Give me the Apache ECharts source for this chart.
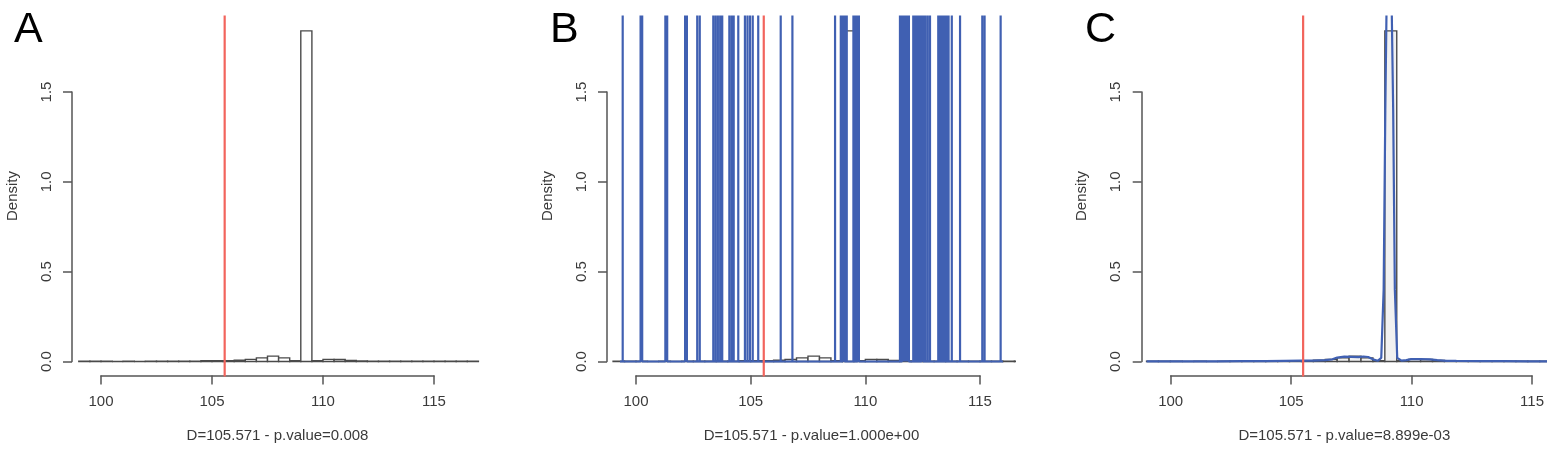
<!DOCTYPE html>
<html>
<head>
<meta charset="utf-8">
<script src="https://cdn.jsdelivr.net/npm/echarts@6/dist/echarts.min.js"></script>
<style>
  html, body { margin: 0; padding: 0; background: #fff; }
  #chart { width: 1547px; height: 449px; }
</style>
</head>
<body>
<div id="chart"></div>
<script>
// values
var xTicks = [100, 105, 110, 115];
var yTicks = [0, 0.5, 1.0, 1.5];
var dObserved = 105.571;
var panelLetters = ["A", "B", "C"];
var xTitles = [
    "D=105.571 - p.value=0.008",
    "D=105.571 - p.value=1.000e+00",
    "D=105.571 - p.value=8.899e-03"
];

// histogram of the null distribution (bin width 0.5)
var histBreaks = [99, 99.5, 100, 100.5, 101, 101.5, 102, 102.5, 103, 103.5, 104, 104.5,
    105, 105.5, 106, 106.5, 107, 107.5, 108, 108.5, 109, 109.5, 110, 110.5, 111, 111.5,
    112, 112.5, 113, 113.5, 114, 114.5, 115, 115.5, 116, 116.5, 117];
var histDensity = [0.001, 0.001, 0.001, 0.000, 0.001, 0.000, 0.001, 0.001, 0.002, 0.002,
    0.002, 0.004, 0.005, 0.005, 0.007, 0.012, 0.020, 0.030, 0.020, 0.004, 1.840, 0.004,
    0.012, 0.011, 0.006, 0.003, 0.002, 0.002, 0.001, 0.002, 0.001, 0.001, 0.001, 0.001,
    0.001, 0.001];

// panel B: density with a tiny bandwidth, spikes go off the top
var spikesB = [99.42, 100.2, 100.27, 101.28, 101.36, 102.14, 102.22, 102.67, 102.78,
    103.37, 103.47, 103.57, 103.67, 103.76, 104.07, 104.17, 104.26, 104.46, 104.75,
    104.86, 104.97, 105.09, 105.33, 106.31, 106.82, 108.68, 108.93, 109.02, 109.1,
    109.19, 109.48, 109.57, 109.66, 109.72, 111.51, 111.6, 111.68, 111.76, 111.84,
    111.9, 112.09, 112.18, 112.27, 112.36, 112.45, 112.53, 112.62, 112.72, 112.82,
    113.18, 113.27, 113.36, 113.45, 113.54, 113.63, 113.77, 114.13, 115.1, 115.2, 115.9];
var spikeTopB = 40;
var baseStartB = 99.3, baseEndB = 116.0;

// panel C: smoothed density
var densCx = [99.0, 100, 101, 102, 103, 104, 104.8, 105.5, 106, 106.5, 106.8, 107.0, 107.3,
    107.6, 107.9, 108.1, 108.3, 108.5, 108.7, 108.85, 108.95, 109.02, 109.07, 109.18,
    109.29, 109.35, 109.42, 109.52, 109.7, 109.9, 110.1, 110.5, 110.9, 111.2, 111.6,
    112, 113, 114, 115, 116, 116.5];
var densCy = [0.001, 0.001, 0.001, 0.001, 0.002, 0.002, 0.004, 0.005, 0.005, 0.008, 0.012,
    0.022, 0.027, 0.026, 0.024, 0.028, 0.025, 0.012, 0.004, 0.02, 0.4, 1.4, 1.95, 2.7,
    1.95, 1.4, 0.4, 0.02, 0.005, 0.008, 0.013, 0.014, 0.012, 0.008, 0.004, 0.003, 0.002,
    0.002, 0.001, 0.001, 0.001];

// pixel layout of the three panels
var panels = [
    {left: 72,     right: 483,    x100: 101,    x115: 434,    letterX: 14,   fill: "#ffffff"},
    {left: 607,    right: 1016,   x100: 636,    x115: 980,    letterX: 550,  fill: "#ffffff"},
    {left: 1141.7, right: 1551.7, x100: 1170.7, x115: 1532.3, letterX: 1085, fill: "#f1f1f1"}
];
var plotTop = 16.5, plotBottom = 375.5, y0px = 361.5, y15px = 92;

var font = "Liberation Sans";
var axisGrey = "#555";
var textGrey = "#3a3a3a";
var blue = "#4060b2";
var red = "#f2645c";

var chart = echarts.init(document.getElementById("chart"), null, {renderer: "canvas"});

var yScale = (y0px - y15px) / 1.5;
var yMin = (y0px - plotBottom) / yScale;
var yMax = (y0px - plotTop) / yScale;

var grids = [], xAxes = [], yAxes = [], series = [], graphics = [];

function histItem(fill) {
    return function (params, api) {
        var p0 = api.coord([api.value(0), 0]);
        var p1 = api.coord([api.value(1), api.value(2)]);
        return {
            type: "rect",
            shape: {x: p0[0], y: p1[1], width: p1[0] - p0[0], height: p0[1] - p1[1]},
            style: {fill: fill, stroke: "#4a4a4a", lineWidth: 1.4}
        };
    };
}

var histData = histDensity.map(function (d, i) {
    return [histBreaks[i], histBreaks[i + 1], d];
});

var spikeData = [[baseStartB, 0]];
spikesB.forEach(function (s) {
    spikeData.push([s, 0], [s, spikeTopB], [s, 0]);
});
spikeData.push([baseEndB, 0]);

var densCData = densCx.map(function (x, i) { return [x, densCy[i]]; });

panels.forEach(function (p, i) {
    var sx = (p.x115 - p.x100) / (xTicks[3] - xTicks[0]);
    var xMin = xTicks[0] + (p.left - p.x100) / sx;
    var xMax = xTicks[0] + (p.right - p.x100) / sx;
    var g = i * 3;

    // plot region
    grids.push({left: p.left, top: plotTop, width: p.right - p.left, height: plotBottom - plotTop, containLabel: false});
    // visible x axis (100..115 only)
    grids.push({left: p.x100, top: plotTop, width: p.x115 - p.x100, height: plotBottom - plotTop, containLabel: false});
    // visible y axis (0..1.5 only)
    grids.push({left: p.left, top: y15px, width: 50, height: y0px - y15px, containLabel: false});

    xAxes.push({
        type: "value", gridIndex: g, min: xMin, max: xMax,
        axisLine: {show: false}, axisTick: {show: false}, axisLabel: {show: false}, splitLine: {show: false},
        name: xTitles[i], nameLocation: "middle", nameGap: 53,
        nameTextStyle: {fontSize: 15, color: textGrey, fontFamily: font}
    });
    xAxes.push({
        type: "value", gridIndex: g + 1, min: xTicks[0], max: xTicks[3], interval: 5,
        axisLine: {show: true, lineStyle: {color: axisGrey, width: 1.5}},
        axisTick: {show: true, length: 9, lineStyle: {color: axisGrey, width: 1.5}},
        axisLabel: {margin: 19, fontSize: 15, color: textGrey, fontFamily: font},
        splitLine: {show: false}
    });
    xAxes.push({type: "value", gridIndex: g + 2, show: false, min: 0, max: 1});

    yAxes.push({
        type: "value", gridIndex: g, min: yMin, max: yMax,
        axisLine: {show: false}, axisTick: {show: false}, axisLabel: {show: false}, splitLine: {show: false},
        name: "Density", nameLocation: "middle", nameGap: 52, nameRotate: 90,
        nameTextStyle: {fontSize: 15, color: textGrey, fontFamily: font}
    });
    yAxes.push({type: "value", gridIndex: g + 1, show: false, min: 0, max: 1});
    yAxes.push({
        type: "value", gridIndex: g + 2, min: yTicks[0], max: yTicks[3], interval: 0.5,
        axisLine: {show: true, lineStyle: {color: axisGrey, width: 1.5}},
        axisTick: {show: true, length: 9, lineStyle: {color: axisGrey, width: 1.5}},
        axisLabel: {margin: 18, rotate: 90, fontSize: 15, color: textGrey, fontFamily: font,
            formatter: function (v) { return v.toFixed(1); }},
        splitLine: {show: false}
    });

    series.push({
        type: "custom", xAxisIndex: g, yAxisIndex: g, renderItem: histItem(p.fill),
        data: histData, z: 2, clip: true, silent: true
    });
    if (i === 1) {
        series.push({
            type: "line", xAxisIndex: g, yAxisIndex: g, data: spikeData, showSymbol: false,
            symbol: "none", lineStyle: {color: blue, width: 2.2}, clip: true, z: 3, silent: true
        });
    }
    if (i === 2) {
        series.push({
            type: "line", xAxisIndex: g, yAxisIndex: g, data: densCData, showSymbol: false,
            symbol: "none", lineStyle: {color: blue, width: 2.2}, clip: true, z: 3, silent: true
        });
    }
    series.push({
        type: "line", xAxisIndex: g, yAxisIndex: g, data: [[dObserved, -10], [dObserved, 10]],
        showSymbol: false, symbol: "none", lineStyle: {color: red, width: 2.2}, clip: true, z: 4, silent: true
    });

    graphics.push({
        type: "text", left: p.letterX, top: 9,
        style: {text: panelLetters[i], fontSize: 43, fill: "#000", fontFamily: font}
    });
});

chart.setOption({
    animation: false,
    backgroundColor: "#ffffff",
    textStyle: {fontFamily: font},
    grid: grids,
    xAxis: xAxes,
    yAxis: yAxes,
    series: series,
    graphic: graphics
});
</script>
</body>
</html>
